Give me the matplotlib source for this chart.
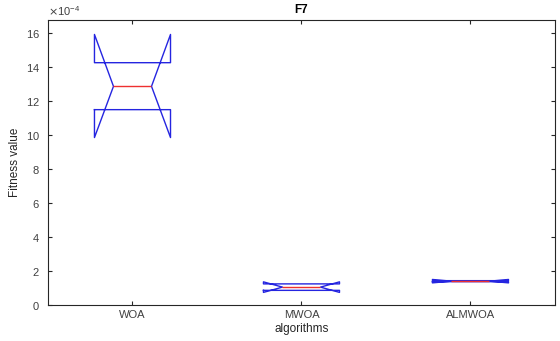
import matplotlib
matplotlib.use('Agg')
import matplotlib.pyplot as plt
from matplotlib.ticker import ScalarFormatter

plt.rcParams['font.family'] = ['Liberation Sans', 'DejaVu Sans']

# Box statistics per algorithm (fitness on F7)
algorithms = ['WOA', 'MWOA', 'ALMWOA']
medians = [12.85e-4, 1.05e-4, 1.40e-4]
q1s = [11.48e-4, 0.86e-4, 1.37e-4]
q3s = [14.24e-4, 1.24e-4, 1.43e-4]
notch_lo = [9.84e-4, 0.74e-4, 1.30e-4]
notch_hi = [15.90e-4, 1.36e-4, 1.50e-4]

stats = []
for name, med, q1, q3, lo, hi in zip(algorithms, medians, q1s, q3s, notch_lo, notch_hi):
    stats.append({'label': name, 'med': med, 'q1': q1, 'q3': q3,
                  'cilo': lo, 'cihi': hi, 'whislo': q1, 'whishi': q3,
                  'fliers': []})

fig = plt.figure(figsize=(5.6, 3.41), dpi=100)
ax = fig.add_axes([0.0857, 0.1056, 0.9053, 0.8358])

ax.bxp(stats, positions=[1, 2, 3], widths=0.45, shownotches=True,
       showcaps=False, showfliers=False,
       boxprops=dict(color='#2525e0', linewidth=1.0),
       medianprops=dict(color='#ee3030', linewidth=1.0),
       whiskerprops=dict(linewidth=0))

ax.set_xlim(0.5, 3.5)
ax.set_ylim(0, 16.75e-4)
ax.set_yticks([i * 2e-4 for i in range(9)])

# fixed x10^-4 multiplier on the y axis
fmt = ScalarFormatter(useMathText=True)
fmt.set_powerlimits((-4, -4))
ax.yaxis.set_major_formatter(fmt)
ax.yaxis.get_offset_text().set_fontsize(8)
ax.yaxis.get_offset_text().set_color('#404040')

for side in ['left', 'right', 'top', 'bottom']:
    ax.spines[side].set_color('#262626')
    ax.spines[side].set_linewidth(0.8)
ax.tick_params(direction='in', top=True, right=True, length=3,
               labelsize=8, colors='#262626', labelcolor='#404040')
ax.tick_params(axis='y', pad=6)

ax.set_title('F7', fontsize=8.5, fontweight='bold', pad=5)
ax.set_xlabel('algorithms', fontsize=8.5, color='#262626', labelpad=2)
ax.set_ylabel('Fitness value', fontsize=8.5, color='#262626', labelpad=3)

fig.savefig('out.png', dpi=100, facecolor='white')
